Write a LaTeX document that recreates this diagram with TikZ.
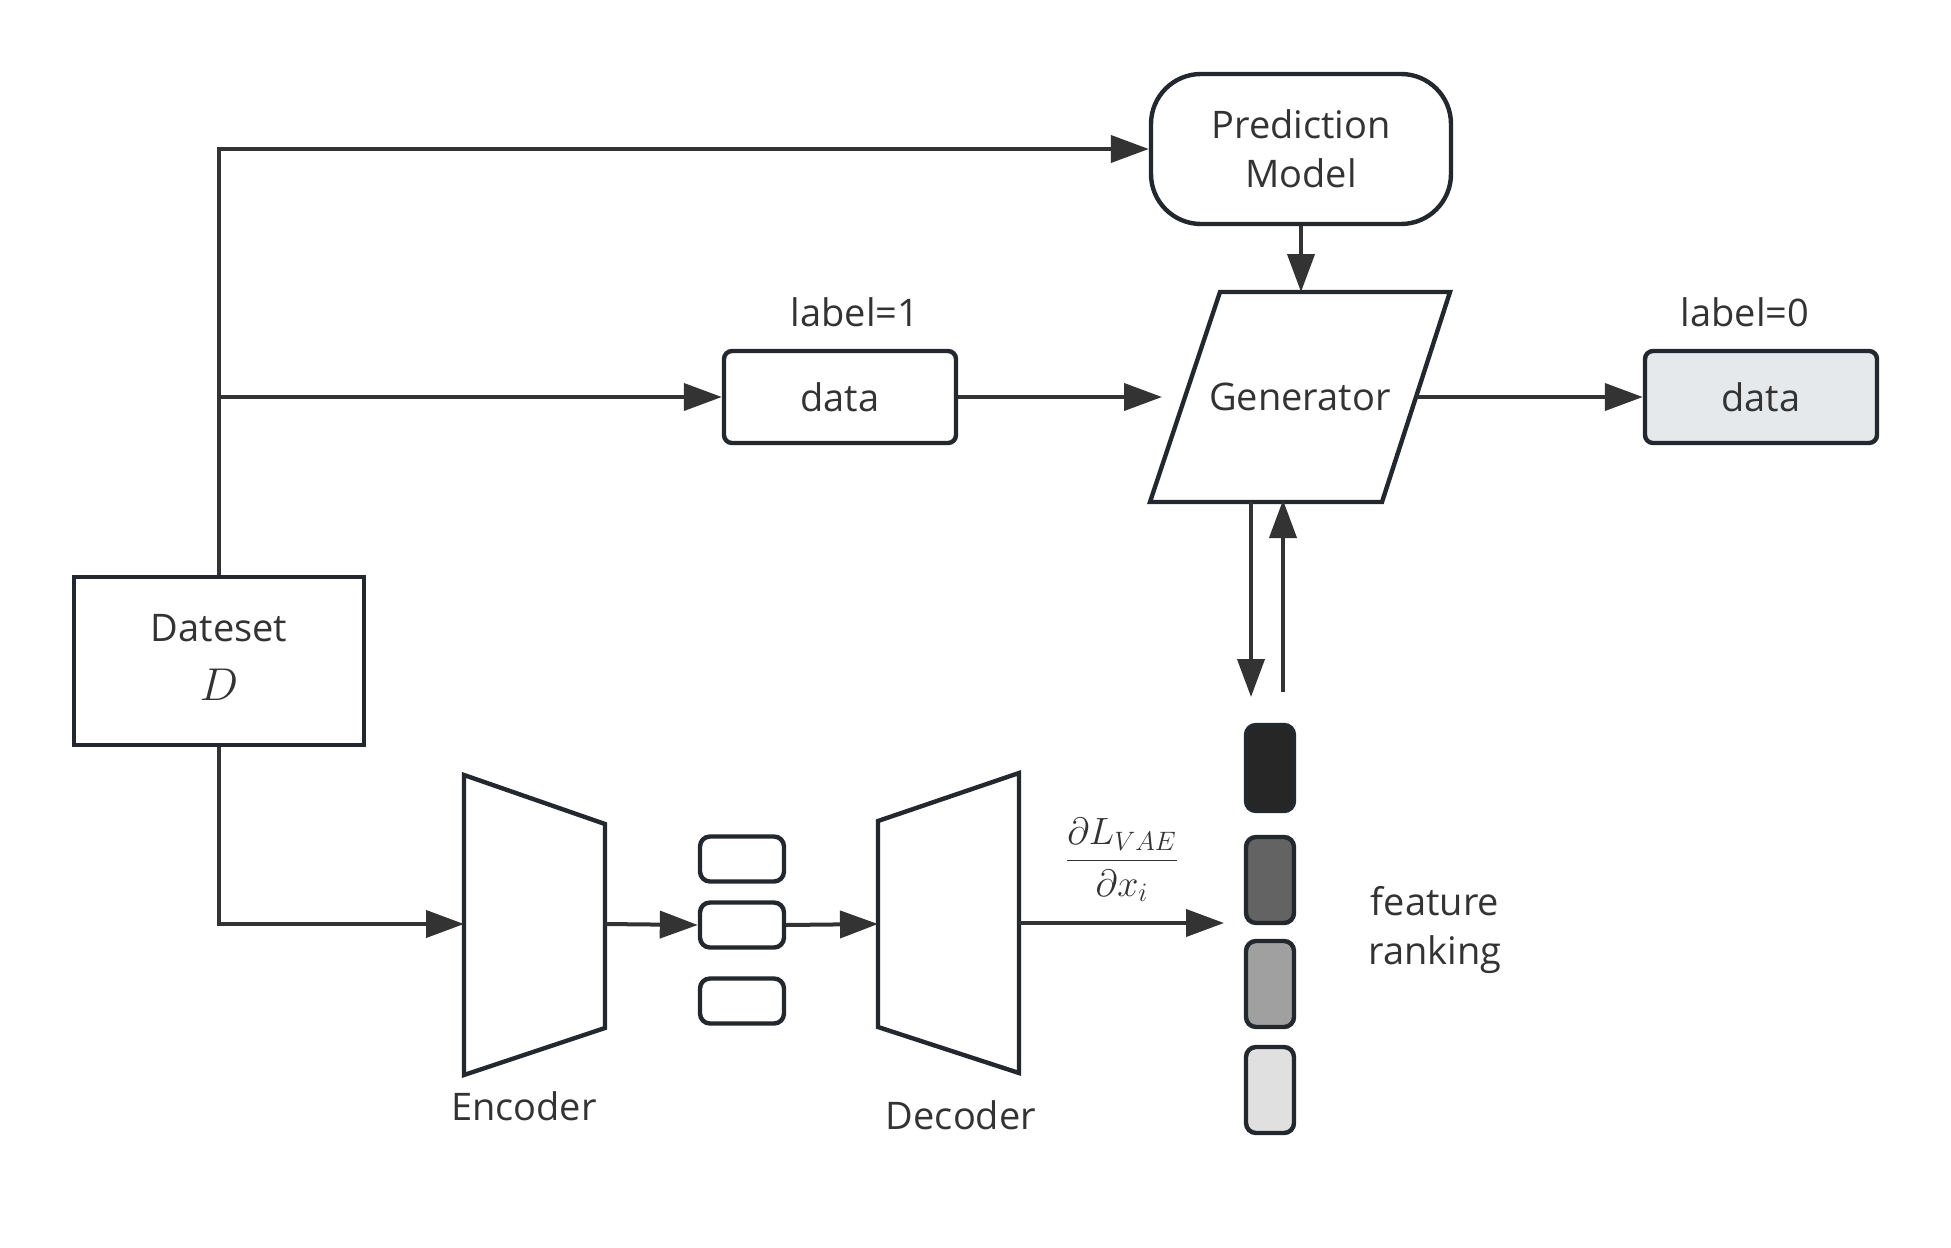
\RequirePackage{fix-cm}
\documentclass[tikz,border=0pt]{standalone}
\usepackage{amsmath}
\usepackage{fontspec}
\setmainfont{Open Sans}
\usetikzlibrary{arrows.meta,positioning}

\definecolor{linec}{HTML}{333333}
\definecolor{edgec}{HTML}{22282D}
\definecolor{datafill}{HTML}{E6E9EC}
\definecolor{rank1}{HTML}{262626}
\definecolor{rank2}{HTML}{636363}
\definecolor{rank3}{HTML}{A0A0A0}
\definecolor{rank4}{HTML}{E0E0E0}

\begin{document}
\begin{tikzpicture}[x=0.5pt,y=-0.5pt,
    every node/.style={text=linec, font=\fontsize{19}{24.5}\selectfont},
    arr/.style={draw=linec, line width=2pt, -{Triangle[length=19pt,width=13.5pt]}},
    outline/.style={draw=edgec, line width=2.2pt, line join=miter},
    databox/.style={outline, rounded corners=4pt, minimum width=116pt, minimum height=46pt, inner sep=0pt},
    latent/.style={outline, rounded corners=5pt, minimum width=42pt, minimum height=22.5pt, inner sep=0pt},
    rankbox/.style={outline, rounded corners=5pt, minimum width=24pt, minimum height=43pt, inner sep=0pt}]

    \fill[white] (0,0) rectangle (1951,1248);
    \useasboundingbox (0,0) rectangle (1951,1248);

    % boxes
    \node[outline, minimum width=145pt, minimum height=84pt, align=center] (dataset) at (219,661)
        {Dateset\\[5pt]{\fontsize{23}{23}\selectfont$D$\rule[-4pt]{0pt}{0pt}}};
    \node[outline, rounded corners=25pt, minimum width=150pt, minimum height=75pt, align=center] (predmodel) at (1301,149)
        {Prediction\\Model};
    \node[databox] (data1) at (840,397) {data};
    \node[databox, fill=datafill] (data2) at (1761,397) {data};
    \node (label1) at (855,312) {label=1};
    \node (label0) at (1745,312) {label=0};

    % generator (parallelogram)
    \draw[outline] (1220,292) -- (1450,292) -- (1382,502) -- (1150,502) -- cycle;
    \node (gen) at (1300,397) {Generator};
    \coordinate (gentop) at (1301,292);
    \coordinate (genin) at (1162,397);
    \coordinate (genout) at (1417,397);

    % encoder / decoder
    \draw[outline] (464,775) -- (605,824) -- (605,1028) -- (464,1075) -- cycle;
    \draw[outline] (878,821) -- (1019,773) -- (1019,1073) -- (878,1027) -- cycle;
    \node (enclabel) at (524,1106) {Encoder};
    \node (declabel) at (961,1115) {Decoder};
    \coordinate (encin) at (464,924);
    \coordinate (encout) at (605,924);
    \coordinate (decin) at (878,924);
    \coordinate (decout) at (1019,923);

    % latent code
    \foreach \y [count=\i] in {859,925,1001}
        \node[latent] (lat\i) at (742,\y) {};

    % feature ranking
    \foreach \y [count=\i] in {768,880,984,1090}
        \node[rankbox, fill=rank\i] (rank\i) at (1270,\y) {};
    \node[align=center] (ranklabel) at (1435,930) {feature\\ranking};
    \node (grad) at (1122,860) {$\displaystyle\frac{\partial L_{VAE}}{\partial x_i}$};
    \coordinate (gradend) at (1224,923);

    % connectors
    \coordinate (split) at (219,397);
    \draw[arr] (dataset.north) |- (predmodel.west);
    \draw[arr] (split) -- (data1.west);
    \draw[arr] (data1.east) -- (genin);
    \draw[arr] (genout) -- (data2.west);
    \draw[arr] (predmodel.south) -- (gentop);
    \coordinate (gendown) at (1251,502);
    \coordinate (rankdown) at (1251,697);
    \coordinate (rankup) at (1283,692);
    \coordinate (genup) at (1283,500);
    \draw[arr] (gendown) -- (rankdown);
    \draw[arr] (rankup) -- (genup);
    \draw[arr] (dataset.south) |- (encin);
    \draw[arr] (encout) -- (lat2.west);
    \draw[arr] (lat2.east) -- (decin);
    \draw[arr] (decout) -- (gradend);

\end{tikzpicture}
\end{document}
